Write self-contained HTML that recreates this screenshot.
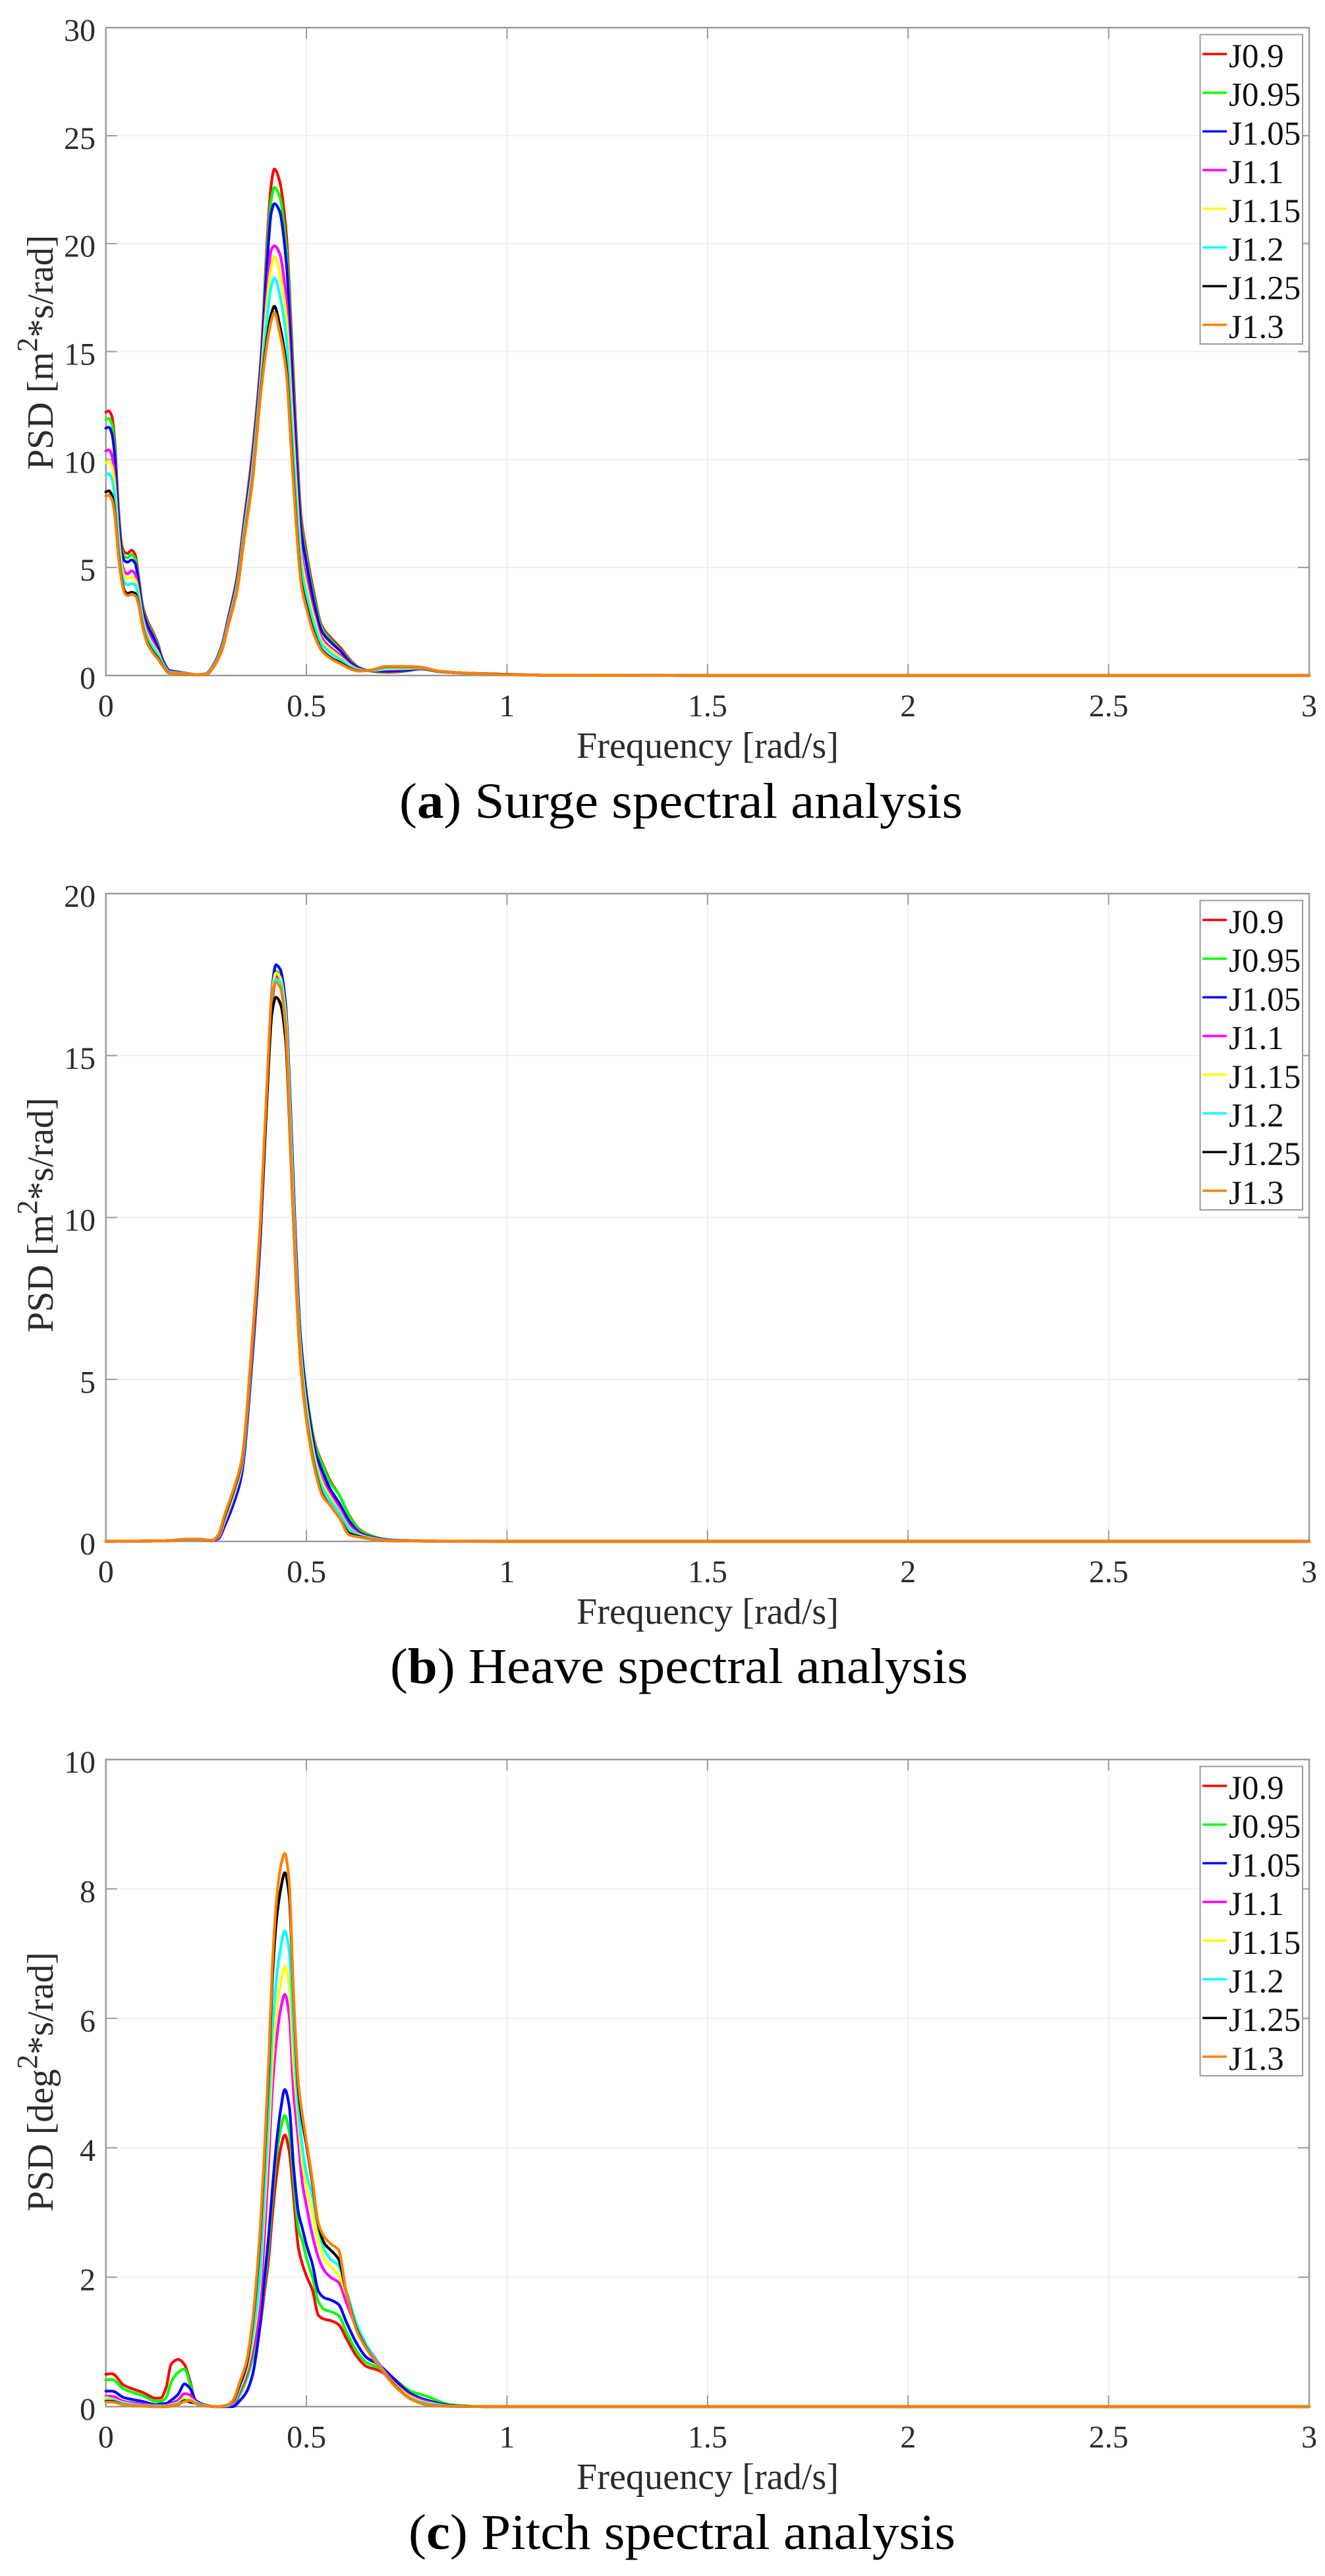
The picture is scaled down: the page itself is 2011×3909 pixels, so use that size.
<!DOCTYPE html>
<html lang="en">
<head>
<meta charset="utf-8">
<title>Spectral analysis</title>
<style>
html,body{margin:0;padding:0;background:#fff;}
svg{display:block;}
text{font-family:"Liberation Serif","Times New Roman",serif;}
.lab{font-size:56px;fill:#2b2b2b;}
.cap{font-size:76px;fill:#000;}
.tick{font-size:48px;fill:#2b2b2b;}
.leg{font-size:51px;fill:#111;}
</style>
</head>
<body>
<svg id="figure" xmlns="http://www.w3.org/2000/svg" width="2011" height="3909" viewBox="0 0 2011 3909">
  <rect x="0" y="0" width="2011" height="3909" fill="#fff"/>

  <g id="panel-surge"></g>
  <text class="lab" x="875" y="1150" textLength="398" lengthAdjust="spacingAndGlyphs">Frequency [rad/s]</text>
  <text class="lab" transform="translate(80,713) rotate(-90)">PSD [m<tspan font-size="44" dy="-24">2</tspan><tspan dy="24">*s/rad]</tspan></text>
  <text class="cap" x="606" y="1241" textLength="855" lengthAdjust="spacingAndGlyphs">(<tspan font-weight="bold">a</tspan>) Surge spectral analysis</text>

  <g id="panel-heave"></g>
  <text class="lab" x="875" y="2464" textLength="398" lengthAdjust="spacingAndGlyphs">Frequency [rad/s]</text>
  <text class="lab" transform="translate(80,2022) rotate(-90)">PSD [m<tspan font-size="44" dy="-24">2</tspan><tspan dy="24">*s/rad]</tspan></text>
  <text class="cap" x="592" y="2554" textLength="877" lengthAdjust="spacingAndGlyphs">(<tspan font-weight="bold">b</tspan>) Heave spectral analysis</text>

  <g id="panel-pitch"></g>
  <text class="lab" x="875" y="3777" textLength="398" lengthAdjust="spacingAndGlyphs">Frequency [rad/s]</text>
  <text class="lab" transform="translate(80,3356) rotate(-90)">PSD [deg<tspan font-size="44" dy="-24">2</tspan><tspan dy="24">*s/rad]</tspan></text>
  <text class="cap" x="620" y="3868" textLength="830" lengthAdjust="spacingAndGlyphs">(<tspan font-weight="bold">c</tspan>) Pitch spectral analysis</text>
</svg>

<script>
const seriesNames = ["J0.9","J0.95","J1.05","J1.1","J1.15","J1.2","J1.25","J1.3"];
const seriesColors = ["#ff0000","#00ff00","#0000ff","#ff00ff","#ffff00","#00ffff","#000000","#ff8000"];
const xTicks = [0,0.5,1,1.5,2,2.5,3];
const xTickLabels = ["0","0.5","1","1.5","2","2.5","3"];

const surgeYTicks = [0,5,10,15,20,25,30];
const surgeFreq = [0,.007,.015,.021,.032,.04,.047,.054,.064,.073,.081,.092,.103,.119,.13,.141,.158,.185,.229,.25,.267,.289,.305,.327,.344,.365,.387,.403,.412,.42,.433,.45,.462,.475,.487,.5,.517,.538,.563,.584,.61,.63,.66,.7,.745,.785,.83,.91,1,1.1,1.5,3];
const surgeJ090 = [12.2,12.25,12,11.1,7.6,6,5.7,5.65,5.8,5.6,4.67,3.2,2.56,1.93,1.46,.78,.25,.15,.04,.09,.46,1.4,2.67,4.56,7.1,10.3,14.8,20.4,22.7,23.45,22.9,20.4,16.1,11,7.3,5.7,3.97,2.3,1.7,1.3,.7,.38,.2,.15,.2,.3,.18,.1,.05,.01,0,0];
const surgeJ095 = [11.85,11.9,11.65,10.75,7.4,5.85,5.5,5.45,5.6,5.4,4.55,3.1,2.45,1.85,1.4,.75,.24,.14,.04,.09,.45,1.38,2.63,4.5,7,10.15,14.6,19.9,22,22.6,22.2,19.75,15.55,10.6,7,5.45,3.75,2.2,1.6,1.2,.65,.36,.21,.18,.22,.31,.18,.1,.05,.01,0,0];
const surgeJ105 = [11.45,11.5,11.2,10.4,7.15,5.65,5.3,5.25,5.35,5.2,4.4,3,2.35,1.75,1.3,.7,.22,.14,.04,.08,.44,1.35,2.6,4.43,6.9,10,14.5,19.4,21.4,21.85,21.5,19.1,15,10.15,6.7,5.2,3.55,2.05,1.5,1.15,.6,.34,.22,.2,.24,.32,.18,.1,.05,.01,0,0];
const surgeJ110 = [10.4,10.45,10.2,9.4,6.55,5.2,4.8,4.7,4.85,4.7,4,2.7,2.05,1.5,1.1,.6,.18,.12,.04,.07,.41,1.28,2.48,4.25,6.65,9.65,14,18.05,19.7,19.9,19.55,17.35,13.4,9,5.8,4.45,3,1.75,1.25,.95,.5,.3,.23,.28,.3,.34,.19,.1,.05,.01,0,0];
const surgeJ115 = [9.85,9.9,9.7,9,6.3,5,4.55,4.5,4.55,4.45,3.85,2.6,1.9,1.35,1.05,.58,.16,.11,.04,.07,.4,1.25,2.45,4.15,6.55,9.45,13.85,17.5,18.9,19.4,18.7,16.55,12.75,8.5,5.45,4.15,2.8,1.6,1.15,.85,.45,.27,.23,.31,.33,.35,.19,.1,.05,.01,0,0];
const surgeJ120 = [9.3,9.35,9.1,8.45,5.95,4.7,4.3,4.2,4.25,4.2,3.65,2.45,1.75,1.25,.95,.55,.14,.1,.03,.06,.38,1.2,2.4,4.05,6.4,9.25,13.6,16.7,18,18.4,17.65,15.6,11.9,7.85,5,3.75,2.5,1.45,1,.75,.4,.25,.24,.35,.37,.36,.2,.1,.05,.01,0,0];
const surgeJ125 = [8.5,8.55,8.35,7.75,5.5,4.4,3.9,3.8,3.85,3.8,3.35,2.25,1.55,1.05,.8,.47,.11,.08,.03,.05,.35,1.16,2.32,3.93,6.25,8.95,13.3,15.75,16.7,17.1,16.25,14.3,10.8,7,4.35,3.25,2.1,1.2,.8,.6,.32,.21,.25,.41,.41,.38,.2,.1,.05,.01,0,0];
const surgeJ130 = [8.3,8.35,8.15,7.6,5.4,4.3,3.8,3.7,3.75,3.7,3.3,2.2,1.5,1,.75,.45,.1,.08,.03,.05,.35,1.15,2.3,3.9,6.2,8.9,13.2,15.5,16.4,16.8,15.9,14,10.5,6.8,4.2,3.1,2,1.15,.75,.55,.3,.2,.25,.42,.42,.38,.2,.1,.04,.01,0,0];

const heaveYTicks = [0,5,10,15,20];
const heaveFreq = [0,.1,.155,.205,.23,.264,.28,.297,.322,.339,.364,.385,.402,.414,.424,.435,.448,.46,.473,.485,.502,.523,.54,.56,.581,.607,.632,.657,.7,.8,1,1.5,3];
const heaveJ090 = [0,.01,.02,.07,.07,.02,.1,.55,1.4,2.2,5.6,9.4,13.8,16.6,17.3,17.35,16.4,13.4,9.3,6.4,4.4,2.95,2.4,1.85,1.45,.8,.37,.2,.06,.01,0,0,0];
const heaveJ095 = [0,.01,.02,.07,.07,.02,.1,.55,1.4,2.2,5.65,9.45,13.9,16.9,17.6,17.5,16.5,13.4,9.3,6.4,4.4,2.9,2.35,1.8,1.45,.78,.35,.19,.06,.01,0,0,0];
const heaveJ105 = [0,.01,.02,.07,.07,.02,.08,.5,1.3,2.1,5.5,9.3,13.9,17,17.8,17.65,16.6,13.5,9.3,6.3,4.3,2.75,2.15,1.6,1.2,.62,.28,.15,.05,.01,0,0,0];
const heaveJ110 = [0,.01,.02,.07,.07,.02,.12,.62,1.5,2.3,5.8,9.6,14,16.8,17.45,17.35,16.3,13,8.9,6,4,2.5,1.9,1.45,1.05,.5,.24,.13,.04,.01,0,0,0];
const heaveJ115 = [0,.01,.02,.07,.07,.03,.14,.68,1.55,2.35,5.85,9.65,14.05,16.9,17.55,17.4,16.3,13,8.8,5.95,3.95,2.45,1.8,1.35,.95,.42,.2,.11,.03,.01,0,0,0];
const heaveJ120 = [0,.01,.02,.07,.07,.03,.16,.74,1.62,2.42,5.95,9.75,14.1,16.8,17.35,17.25,16.1,12.7,8.6,5.75,3.75,2.3,1.65,1.25,.9,.38,.18,.1,.03,.01,0,0,0];
const heaveJ125 = [0,.01,.02,.07,.07,.03,.18,.8,1.7,2.5,6,9.7,13.8,16.3,16.8,16.6,15.5,12.2,8.3,5.55,3.6,2.15,1.45,1.1,.75,.25,.15,.08,.02,.01,0,0,0];
const heaveJ130 = [0,.01,.02,.07,.07,.03,.2,.85,1.75,2.55,6.1,9.85,14.2,16.9,17.25,17.1,15.85,12.3,8.25,5.5,3.55,2.1,1.4,1.1,.75,.2,.13,.08,.02,.01,0,0,0];

const pitchYTicks = [0,2,4,6,8,10];
const pitchFreq = [0,.015,.045,.092,.125,.136,.15,.163,.18,.196,.21,.223,.24,.273,.3,.316,.335,.35,.366,.382,.395,.406,.415,.425,.436,.446,.457,.468,.48,.49,.5,.515,.53,.545,.56,.58,.6,.625,.65,.68,.72,.76,.8,.86,.95,1.1,3];
const pitchJ090 = [.5,.51,.33,.22,.13,.13,.29,.66,.73,.65,.39,.1,.04,0,0,.03,.2,.42,.75,1.15,1.75,2.3,2.95,3.55,4,4.2,3.95,3.25,2.45,2.2,2.02,1.8,1.41,1.35,1.33,1.27,1.05,.78,.62,.56,.38,.15,.07,.01,0,0,0];
const pitchJ095 = [.41,.42,.27,.17,.08,.08,.14,.38,.53,.58,.35,.1,.04,0,0,.03,.2,.42,.75,1.2,1.85,2.5,3.2,3.85,4.3,4.5,4.25,3.5,2.75,2.55,2.3,2,1.62,1.5,1.47,1.41,1.15,.86,.68,.6,.42,.24,.16,.03,0,0,0];
const pitchJ105 = [.24,.24,.14,.08,.03,.04,.05,.1,.19,.35,.28,.1,.04,0,0,0,.1,.22,.5,1.14,1.95,2.65,3.35,4.05,4.6,4.9,4.65,3.7,3,2.75,2.5,2.2,1.78,1.68,1.65,1.58,1.3,.98,.76,.65,.42,.2,.1,.02,0,0,0];
const pitchJ110 = [.16,.16,.08,.04,.02,.02,.02,.05,.1,.2,.18,.08,.03,0,.01,.04,.25,.48,.85,1.45,2.6,3.8,4.9,5.65,6.15,6.37,6.05,4.85,4.1,3.45,3.1,2.65,2.3,2.1,2,1.92,1.6,1.22,.95,.67,.36,.17,.08,.01,0,0,0];
const pitchJ115 = [.14,.12,.06,.02,.01,.01,.01,.03,.06,.13,.12,.07,.03,0,.01,.06,.3,.55,1,1.75,3,4.2,5.3,6.1,6.55,6.8,6.5,5.3,4.4,3.75,3.4,3,2.55,2.28,2.17,2.03,1.72,1.28,.95,.65,.35,.15,.06,.01,0,0,0];
const pitchJ120 = [.1,.1,.05,.02,.01,.01,.01,.02,.05,.1,.1,.06,.03,0,.01,.07,.33,.6,1.1,1.9,3.3,4.6,5.8,6.6,7.1,7.35,7.05,5.75,4.6,4,3.6,3.25,2.75,2.42,2.28,2.18,1.78,1.28,.95,.65,.33,.13,.05,.01,0,0,0];
const pitchJ125 = [.08,.08,.03,.01,0,0,0,.01,.03,.09,.07,.05,.02,0,.02,.08,.36,.63,1.3,2.4,3.8,5.2,6.6,7.5,8,8.25,7.9,6.3,4.9,4.4,4.05,3.45,2.8,2.52,2.42,2.28,1.75,1.2,.9,.63,.33,.12,.03,.005,0,0,0];
const pitchJ130 = [.07,.07,.03,.01,0,0,0,.01,.03,.08,.09,.05,.02,0,.02,.09,.4,.68,1.35,2.5,3.9,5.35,6.8,7.8,8.35,8.55,8.1,6.35,5,4.5,4.1,3.5,2.83,2.62,2.52,2.42,1.75,1.18,.89,.63,.32,.12,.03,.005,0,0,0];

const SVGNS = "http://www.w3.org/2000/svg";
const LEFT = 160.7, RIGHT = 1987, X_MAX = 3;

function make(tag, attrs, parent) {
  const el = document.createElementNS(SVGNS, tag);
  for (const k in attrs) el.setAttribute(k, attrs[k]);
  parent.appendChild(el);
  return el;
}

function xScale(f) {
  return LEFT + (f / X_MAX) * (RIGHT - LEFT);
}

function yScaleFor(top, bottom, yMax) {
  return function (v) {
    return bottom - (v / yMax) * (bottom - top);
  };
}

/* monotone cubic path through the data points */
function curvePath(xs, ys) {
  const n = xs.length, d = [], m = [];
  for (let i = 0; i < n - 1; i++) d.push((ys[i + 1] - ys[i]) / (xs[i + 1] - xs[i]));
  m.push(d[0]);
  for (let i = 1; i < n - 1; i++) m.push(d[i - 1] * d[i] <= 0 ? 0 : 2 * d[i - 1] * d[i] / (d[i - 1] + d[i]));
  m.push(d[n - 2]);
  let p = "M" + xs[0].toFixed(2) + " " + ys[0].toFixed(2);
  for (let i = 0; i < n - 1; i++) {
    const h = (xs[i + 1] - xs[i]) / 3;
    p += "C" + (xs[i] + h).toFixed(2) + " " + (ys[i] + m[i] * h).toFixed(2) + " " +
         (xs[i + 1] - h).toFixed(2) + " " + (ys[i + 1] - m[i + 1] * h).toFixed(2) + " " +
         xs[i + 1].toFixed(2) + " " + ys[i + 1].toFixed(2);
  }
  return p;
}

function drawPanel(id, top, bottom, yMax, yTicks, freq, series) {
  const g = document.getElementById(id);
  const yScale = yScaleFor(top, bottom, yMax);
  const GRID = "#f0f0f0", AX = "#9a9a9a", TL = 17;

  xTicks.forEach(function (t, i) {
    const x = xScale(t);
    if (i > 0 && i < xTicks.length - 1) {
      const gl = make("line", {x1: x, x2: x, y1: top, y2: bottom, stroke: GRID, "stroke-width": 2}, g);
      
      
      const tb = make("line", {x1: x, x2: x, y1: bottom, y2: bottom - TL, stroke: AX, "stroke-width": 2}, g);
      
      
      const tt = make("line", {x1: x, x2: x, y1: top, y2: top + TL, stroke: AX, "stroke-width": 2}, g);
      
      
    }
    const lab = make("text", {x: x, y: bottom + 62, "text-anchor": "middle", class: "tick"}, g);
    lab.textContent = xTickLabels[i];
    
    
  });

  yTicks.forEach(function (t, i) {
    const y = yScale(t);
    if (i > 0 && i < yTicks.length - 1) {
      const gl = make("line", {x1: LEFT, x2: RIGHT, y1: y, y2: y, stroke: GRID, "stroke-width": 2}, g);
      
      
      const tl = make("line", {x1: LEFT, x2: LEFT + TL, y1: y, y2: y, stroke: AX, "stroke-width": 2}, g);
      
      
      const tr = make("line", {x1: RIGHT, x2: RIGHT - TL, y1: y, y2: y, stroke: AX, "stroke-width": 2}, g);
      
      
    }
    const lab = make("text", {x: 145, y: y + 20, "text-anchor": "end", class: "tick"}, g);
    lab.textContent = String(t);
    
    
  });

  const box = make("rect", {x: LEFT, y: top, width: RIGHT - LEFT, height: bottom - top, fill: "none", stroke: AX, "stroke-width": 2.5}, g);
  
  

  const xs = freq.map(xScale);
  series.forEach(function (vals, i) {
    const line = make("path", {d: curvePath(xs, vals.map(yScale)), fill: "none", stroke: seriesColors[i], "stroke-width": 4.2, "stroke-linejoin": "round", "stroke-linecap": "round"}, g);
    
    
  });

  const legendTop = top + 10.5, legendLeft = 1821.5, legendW = 155.5, rowH = 58.7;
  const legend = make("g", {}, g);
  
  
  const lbox = make("rect", {x: legendLeft, y: legendTop, width: legendW, height: 469.5, fill: "#fff", stroke: AX, "stroke-width": 2}, legend);
  
  
  seriesNames.forEach(function (name, i) {
    const cy = legendTop + 29.5 + i * rowH;
    const sw = make("line", {x1: 1825, x2: 1862, y1: cy, y2: cy, stroke: seriesColors[i], "stroke-width": 3.5}, legend);
    
    
    const tx = make("text", {x: 1865, y: cy + 20, class: "leg"}, legend);
    tx.textContent = name;
    
    
  });
}

drawPanel("panel-surge", 42, 1025, 30, surgeYTicks, surgeFreq,
  [surgeJ090, surgeJ095, surgeJ105, surgeJ110, surgeJ115, surgeJ120, surgeJ125, surgeJ130]);
drawPanel("panel-heave", 1356, 2339, 20, heaveYTicks, heaveFreq,
  [heaveJ090, heaveJ095, heaveJ105, heaveJ110, heaveJ115, heaveJ120, heaveJ125, heaveJ130]);
drawPanel("panel-pitch", 2670, 3652, 10, pitchYTicks, pitchFreq,
  [pitchJ090, pitchJ095, pitchJ105, pitchJ110, pitchJ115, pitchJ120, pitchJ125, pitchJ130]);
</script>
</body>
</html>
